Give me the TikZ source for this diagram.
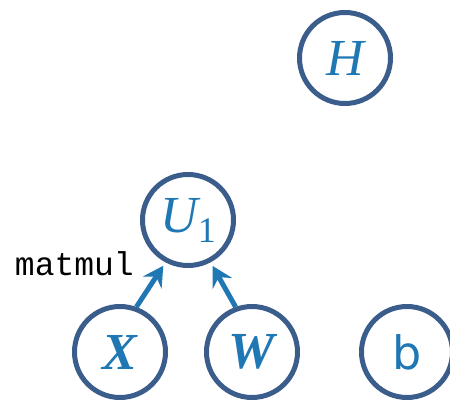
\documentclass[tikz,border=0pt]{standalone}
\usepackage{fontspec}
\setmainfont{Liberation Serif}
\newfontfamily\monofont{Liberation Mono}
\newfontfamily\sansfont{DejaVu Sans}
\usetikzlibrary{arrows.meta}
\definecolor{ringcol}{HTML}{3B5D8C}
\definecolor{txtcol}{HTML}{1F77B4}
\tikzset{
  varnode/.style={circle, draw=ringcol, line width=5pt, minimum size=91pt, inner sep=0pt, text=txtcol, font=\fontsize{52}{52}\selectfont},
  oparrow/.style={draw=txtcol, line width=5pt, -{Stealth[length=20pt,width=22pt,inset=7pt]}, shorten >=4pt},
}
\begin{document}
\begin{tikzpicture}[x=1pt,y=-1pt]
\useasboundingbox (0,0) rectangle (450,401);
\node[varnode] (H) at (345,58) {\itshape H};
\node[varnode] (U1) at (188,220) {\itshape U\raisebox{-10pt}{\fontsize{36}{36}\selectfont\upshape 1}};
\node[varnode] (X) at (120,352) {\bfseries\itshape X};
\node[varnode] (W) at (252,352) {\bfseries\itshape W};
\node[varnode] (b) at (407,352) {\sansfont\fontsize{46}{46}\selectfont b};
\node[anchor=base east, inner sep=0pt, font=\monofont\fontsize{33}{33}\selectfont] (lbl) at (134,275) {matmul};
\draw[oparrow] (X.70) -- (U1.242);
\draw[oparrow] (W.110) -- (U1.298);
\end{tikzpicture}
\end{document}
